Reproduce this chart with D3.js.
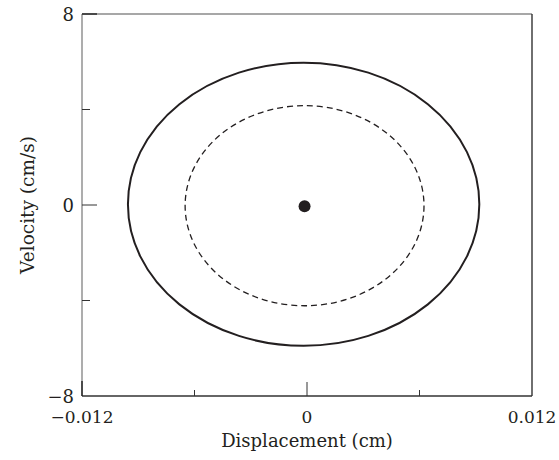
<!DOCTYPE html>
<html>
<head>
<meta charset="utf-8">
<script src="https://cdn.jsdelivr.net/npm/d3@7"></script>
<style>
  body { margin: 0; background: #fff; }
  text { font-family: "DejaVu Serif", serif; fill: #231f20; }
</style>
</head>
<body>
<div id="chart"></div>
<script>
// axis ranges and tick labels
const xDomain = [-0.012, 0.012];
const yDomain = [-8, 8];
const xTickLabels = [-0.012, 0, 0.012];
const yTickLabels = [-8, 0, 8];
const xMinorTicks = [-0.006, 0.006];
const yMinorTicks = [-4, 4];

// orbits: centre (x, v) and half-axes (x amplitude, v amplitude)
const orbitNames = ["outer", "inner"];
const orbitCenterX = [-0.00018, -0.00013];
const orbitCenterV = [0.03, -0.03];
const orbitAmpX = [0.00937, 0.00637];
const orbitAmpV = [5.93, 4.19];

// fixed point
const fixedPoint = [-0.00013, -0.05];

const width = 559, height = 460;
const margin = {top: 14, right: 27, bottom: 64, left: 82};

const svg = d3.select("#chart").append("svg")
    .attr("width", width)
    .attr("height", height);

const x = d3.scaleLinear().domain(xDomain).range([margin.left, width - margin.right]);
const y = d3.scaleLinear().domain(yDomain).range([height - margin.bottom, margin.top]);

const x0 = x.range()[0], x1 = x.range()[1];
const y0 = y.range()[0], y1 = y.range()[1];

// frame: top/left lighter, bottom/right dark like the print
svg.append("line").attr("x1", x0).attr("x2", x1).attr("y1", y1).attr("y2", y1)
    .attr("stroke", "#8a8a8a").attr("stroke-width", 1.4);
svg.append("line").attr("x1", x0).attr("x2", x0).attr("y1", y1).attr("y2", y0)
    .attr("stroke", "#8a8a8a").attr("stroke-width", 1.4);
svg.append("line").attr("x1", x1).attr("x2", x1).attr("y1", y1).attr("y2", y0)
    .attr("stroke", "#333").attr("stroke-width", 1.4);
svg.append("line").attr("x1", x0).attr("x2", x1).attr("y1", y0).attr("y2", y0)
    .attr("stroke", "#333").attr("stroke-width", 1.4);

// ticks (inside)
xTickLabels.filter(d => d === 0).concat(xMinorTicks).forEach(d => {
    const len = d === 0 ? 14 : 6;
    svg.append("line").attr("x1", x(d)).attr("x2", x(d)).attr("y1", y0).attr("y2", y0 - len)
        .attr("stroke", "#333").attr("stroke-width", 1);
});
yTickLabels.filter(d => d === 0).concat(yMinorTicks).forEach(d => {
    const len = d === 0 ? 15 : 8;
    svg.append("line").attr("x1", x0).attr("x2", x0 + len).attr("y1", y(d)).attr("y2", y(d))
        .attr("stroke", "#333").attr("stroke-width", 1);
});
// darker corner stubs
svg.append("line").attr("x1", x0).attr("x2", x0 + 15).attr("y1", y1).attr("y2", y1)
    .attr("stroke", "#222").attr("stroke-width", 1.4);
svg.append("line").attr("x1", x0).attr("x2", x0).attr("y1", y0).attr("y2", y0 - 15)
    .attr("stroke", "#222").attr("stroke-width", 1.4);

const fmt = d => (d < 0 ? "\u2212" : "") + String(Math.abs(d));

// tick labels
svg.selectAll(".xl").data(xTickLabels).enter().append("text")
    .attr("x", d => x(d))
    .attr("y", y0 + 27)
    .attr("text-anchor", "middle")
    .attr("font-size", 17)
    .text(fmt);
svg.selectAll(".yl").data(yTickLabels).enter().append("text")
    .attr("x", x0 - 8)
    .attr("y", d => y(d) + 7)
    .attr("text-anchor", "end")
    .attr("font-size", 18)
    .text(fmt);

// axis titles
svg.append("text")
    .attr("x", x(0))
    .attr("y", y0 + 51)
    .attr("text-anchor", "middle")
    .attr("font-size", 18)
    .text("Displacement (cm)");
svg.append("text")
    .attr("transform", `translate(34, ${y(0)}) rotate(-90)`)
    .attr("text-anchor", "middle")
    .attr("font-size", 18.5)
    .text("Velocity (cm/s)");

// orbits
orbitNames.forEach((name, i) => {
    svg.append("ellipse")
        .attr("cx", x(orbitCenterX[i]))
        .attr("cy", y(orbitCenterV[i]))
        .attr("rx", x(orbitCenterX[i] + orbitAmpX[i]) - x(orbitCenterX[i]))
        .attr("ry", y(orbitCenterV[i]) - y(orbitCenterV[i] + orbitAmpV[i]))
        .attr("fill", "none")
        .attr("stroke", "#231f20")
        .attr("stroke-width", name === "outer" ? 2 : 1.3)
        .attr("stroke-dasharray", name === "outer" ? null : "6,4");
});

svg.append("circle")
    .attr("cx", x(fixedPoint[0]))
    .attr("cy", y(fixedPoint[1]))
    .attr("r", 6)
    .attr("fill", "#231f20");
</script>
</body>
</html>
